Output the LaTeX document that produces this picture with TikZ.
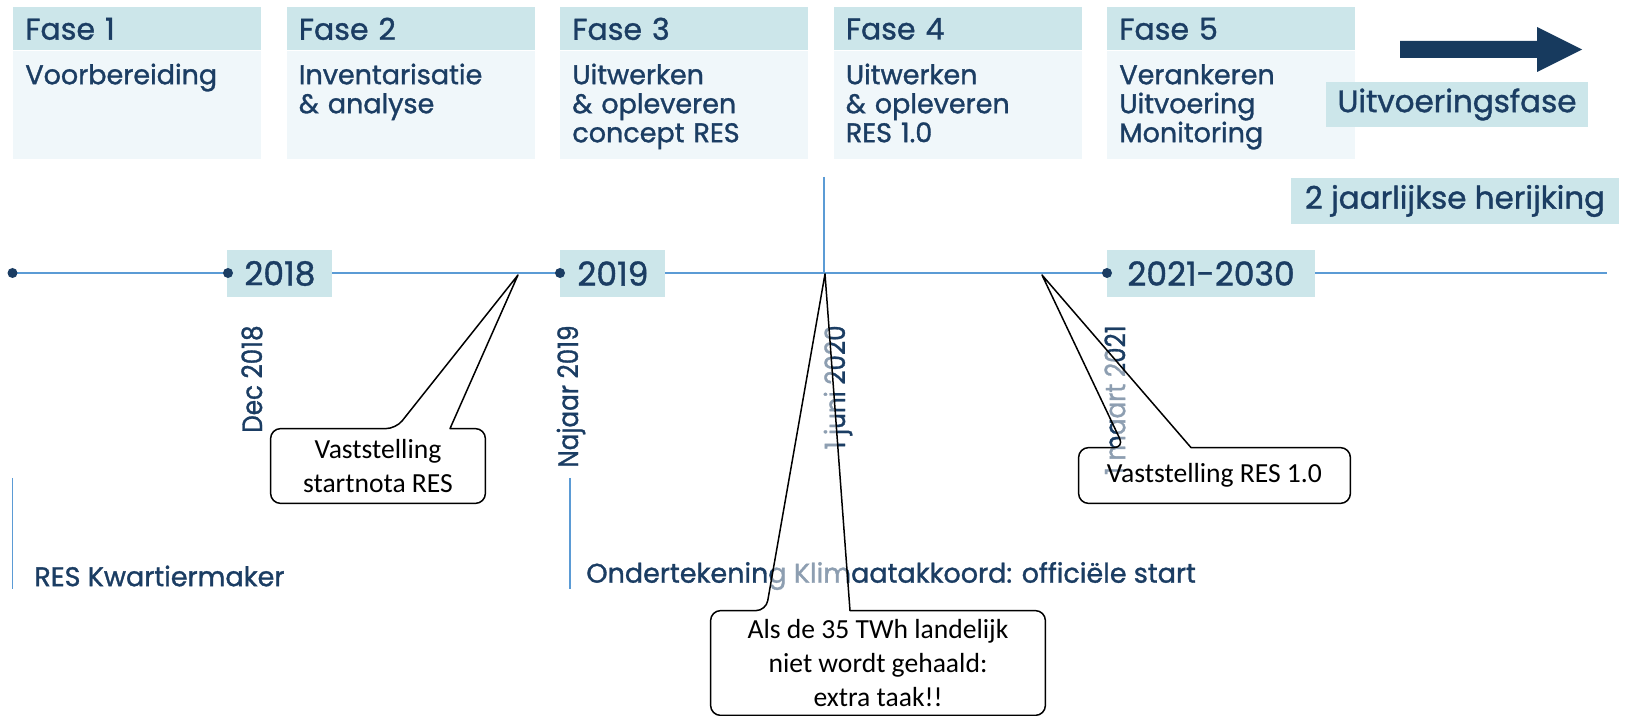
\documentclass[tikz,border=0pt]{standalone}
\usepackage{fontspec}
\usepackage{graphicx}
\usetikzlibrary{calc,positioning}
\setmainfont{Poppins}[RawFeature={embolden=1.2}]
\newfontfamily\calibri{Carlito}
\definecolor{navy}{HTML}{1B3D63}
\definecolor{headbg}{HTML}{CCE6EA}
\definecolor{bodybg}{HTML}{F0F7FA}
\definecolor{lineblue}{HTML}{5B9BD5}
\definecolor{arrowblue}{HTML}{173A5E}
\pgfdeclarelayer{front}
\pgfsetlayers{main,front}
\tikzset{phase head/.style={anchor=north west,fill=headbg,text=navy,text width=112pt,inner xsep=6pt,minimum height=21.5pt,align=left,font=\fontsize{15}{16}\selectfont},
  phase body/.style={anchor=north west,fill=bodybg,text=navy,text width=112pt,inner xsep=6pt,inner ysep=0pt,text height=16.5pt,text depth=37.5pt,align=left,font=\fontsize{13.5}{14.5}\selectfont},
  year box/.style={anchor=west,fill=headbg,text=navy,inner xsep=8.5pt,minimum height=23.5pt,font=\fontsize{16.5}{18}\selectfont},
  tag box/.style={fill=headbg,text=navy,minimum height=21.5pt,font=\fontsize{15.5}{17}\selectfont},
  dot/.style={circle,fill=navy,inner sep=0pt,minimum size=5pt},
  time line/.style={draw=lineblue,line width=1.1pt},
  marker line/.style={draw=lineblue,line width=0.75pt},
  date label/.style={rotate=90,anchor=east,inner sep=0pt,text=navy,font=\fontsize{14}{16}\selectfont},
  event label/.style={anchor=west,inner sep=0pt,text=navy,font=\fontsize{13.5}{15}\selectfont},
  callout text/.style={align=center,inner sep=0pt,font=\calibri\fontsize{13.8}{17}\selectfont},
  callout/.style={draw=black,line width=0.75pt,fill=white,fill opacity=0.5,line join=round}}

\begin{document}
\begin{tikzpicture}[x=0.5pt,y=-0.5pt]
  \useasboundingbox (0,0) rectangle (1635,716);

  \foreach \head/\body [count=\i from 0] in {Fase 1/Voorbereiding,Fase 2/{Inventarisatie\\\& analyse},Fase 3/{Uitwerken\\\& opleveren\\concept RES},Fase 4/{Uitwerken\\\& opleveren\\RES 1.0},Fase 5/{Verankeren\\Uitvoering\\Monitoring}}{
    \node[phase head] (head\i) at ({13+273.5*\i},7) {\head};
    \node[phase body] (body\i) at (head\i.south west) {\body};
  }

  \fill[arrowblue] (1400,41) -- (1537,41) -- (1537,27) -- (1582,49.5) -- (1537,72) -- (1537,58) -- (1400,58) -- cycle;
  \node[tag box,minimum width=131pt] (uitvoering) at (1457,104.5) {Uitvoeringsfase};
  \node[tag box,minimum width=164pt] (herijking) at (1455,201) {2 jaarlijkse herijking};

  \coordinate (tl start) at (12.5,273);
  \coordinate (tl end) at (1607,273);
  \draw[time line] (tl start) -- (tl end);
  \coordinate (juni top) at (824,177);
  \draw[marker line] (juni top) -- (juni top |- tl end);

  \node[year box] (y2018) at (227,273.5) {2018};
  \node[year box] (y2019) at (560,273.5) {2019};
  \node[year box,inner xsep=10pt] (y2021) at (1107,273.5) {2021-2030};
  \foreach \x/\n in {12.5/start,228/d2018,560/d2019,1107/d2021}
    \node[dot] (\n) at (\x,273) {};

  \node[date label] (dec) at (252,325) {\scalebox{0.88}[1]{Dec 2018}};
  \node[date label] (najaar) at (571,325) {\scalebox{0.88}[1]{Najaar 2019}};
  \node[date label] (juni) at (838,325) {\scalebox{0.88}[1]{1 juni 2020}};
  \node[date label] (maart) at (1115,325) {\scalebox{0.88}[1]{1 maart 2021}};

  \coordinate (kw top) at (12.5,478);
  \draw[marker line] (kw top) -- ++(0,111);
  \node[event label] (kwartier) at (34,576) {RES Kwartiermaker};
  \coordinate (ok top) at (570,478);
  \draw[marker line] (ok top) -- ++(0,111);
  \node[event label] (klimaat) at (586,576) {Ondertekening Klimaatakkoord: officiële start};

  \begin{pgfonlayer}{front}
    \node[callout text,minimum width=107pt,minimum height=37pt] (startnota) at (378,466) {Vaststelling\\startnota RES};
    \node[callout text,minimum width=167pt,minimum height=52pt] (twh) at (878,663) {Als de 35 TWh landelijk\\niet wordt gehaald:\\extra taak!!};
    \node[callout text,minimum width=135.5pt,minimum height=27.5pt] (res) at (1214.5,475.5) {Vaststelling RES 1.0};
  \end{pgfonlayer}
  \coordinate (startnota tip) at (518,275);
  \coordinate (twh tip) at (825,274);
  \coordinate (res tip) at (1042,275);
  \foreach \c/\a/\b in {startnota/18/72,twh/-112/-28,res/-90.5/-23.5}
    \path[callout] ($(\c.north)+(\a,0)$) -- (\c\space tip) -- ($(\c.north)+(\b,0)$) [rounded corners=5pt] -- (\c.north east) -- (\c.south east) -- (\c.south west) -- (\c.north west) -- cycle;
\end{tikzpicture}
\end{document}
